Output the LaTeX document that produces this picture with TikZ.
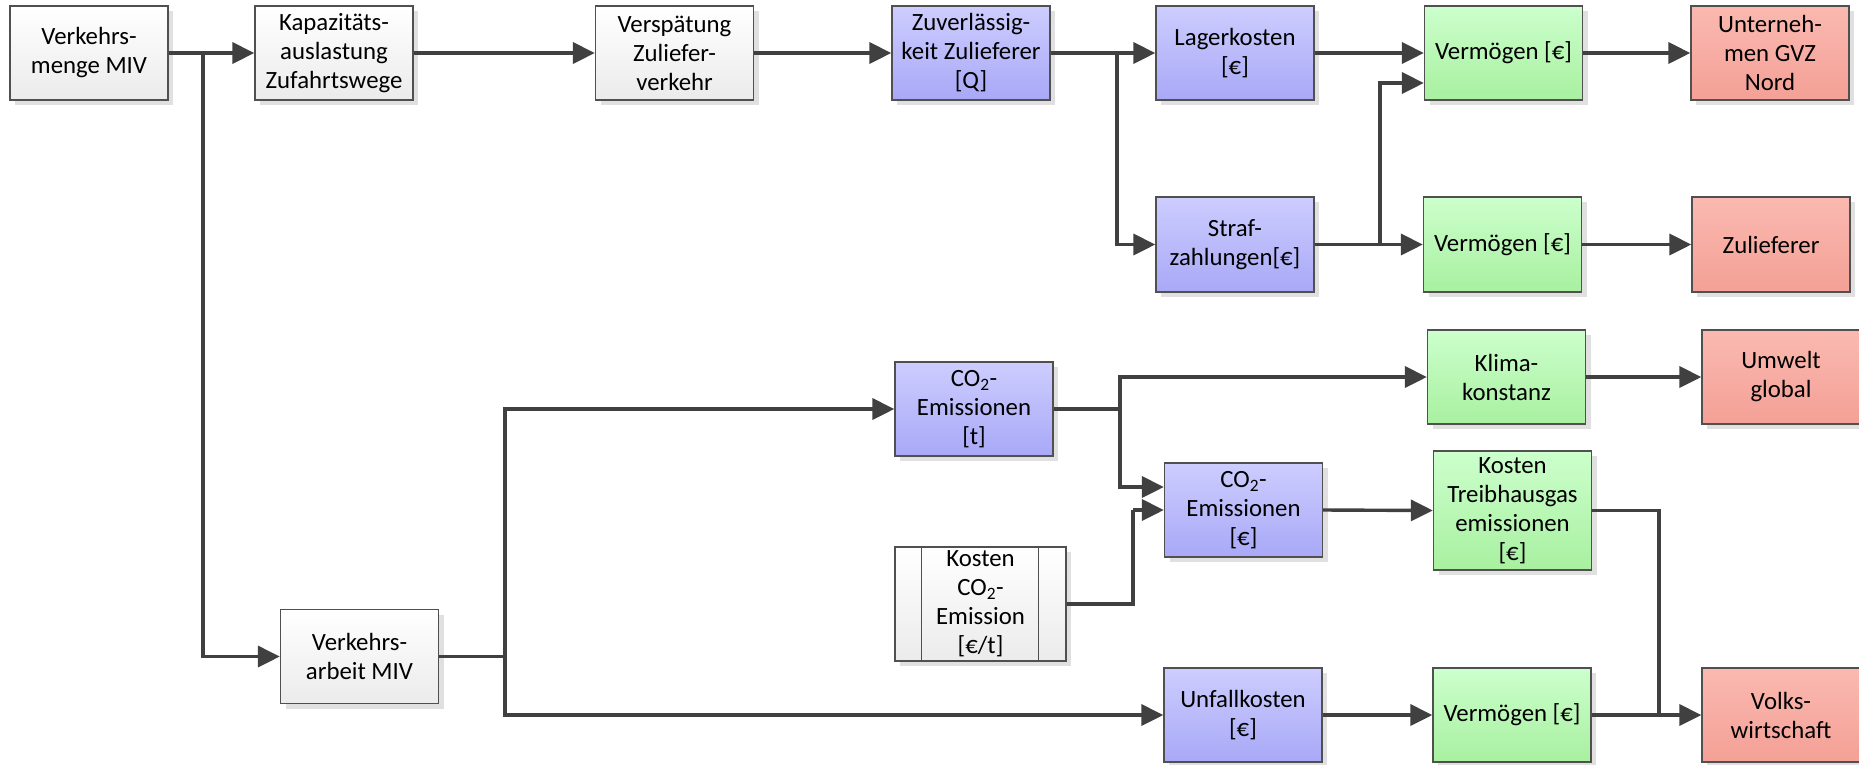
\documentclass[tikz,border=0pt]{standalone}
\usepackage{fontspec}
\setmainfont{Carlito}
\usetikzlibrary{arrows.meta,shadows}
\definecolor{lncol}{HTML}{404040}
\definecolor{bordcol}{HTML}{505050}
\definecolor{greytop}{HTML}{FFFFFF}
\definecolor{greybot}{HTML}{EBEBEB}
\definecolor{bluetop}{HTML}{CDCDFF}
\definecolor{bluebot}{HTML}{A8A8F7}
\definecolor{greentop}{HTML}{CCFFCC}
\definecolor{greenbot}{HTML}{A8F0A0}
\definecolor{redtop}{HTML}{FAB9B0}
\definecolor{redbot}{HTML}{F4A096}
\definecolor{shadcol}{HTML}{E0E0E0}
\tikzset{
  box/.style={draw=bordcol, line width=1.3pt, minimum width=158pt, minimum height=94pt,
    inner sep=0pt, align=center, font=\fontsize{24.8}{29}\selectfont,
    drop shadow={shadow xshift=5pt, shadow yshift=-5pt, fill=shadcol, opacity=1}},
  greybox/.style={box, top color=greytop, bottom color=greybot},
  bluebox/.style={box, top color=bluetop, bottom color=bluebot},
  greenbox/.style={box, top color=greentop, bottom color=greenbot},
  redbox/.style={box, top color=redtop, bottom color=redbot},
  arr/.style={draw=lncol, line width=3.4pt, -{Triangle[length=22pt,width=21pt]}},
  ln/.style={draw=lncol, line width=3.4pt},
  inner/.style={draw=bordcol, line width=1.3pt}
}
\begin{document}
\begin{tikzpicture}[x=1pt,y=-1pt]
\fill[white] (0,0) rectangle (1859,764);
\useasboundingbox (0,0) rectangle (1859,764);
% row 1
\node[greybox] (vm) at (89,53) {Verkehrs-\\menge MIV};
\node[greybox] (ka) at (334,53) {Kapazitäts-\\auslastung\\Zufahrtswege};
\node[greybox] (vs) at (674.5,53) {Verspätung\\Zuliefer-\\verkehr};
\node[bluebox] (zu) at (971,53) {Zuverlässig-\\keit Zulieferer\\{[Q]}};
\node[bluebox] (la) at (1235,53) {Lagerkosten\\{[€]}};
\node[greenbox] (v1) at (1503.5,53) {Vermögen [€]};
\node[redbox] (un) at (1770,53) {Unterneh-\\men GVZ\\Nord};
% row 2
\node[bluebox, minimum height=95pt] (st) at (1235,244.5) {Straf-\\zahlungen[€]};
\node[greenbox, minimum height=95pt] (v2) at (1502.5,244.5) {Vermögen [€]};
\node[redbox, minimum height=95pt] (zl) at (1771,244.5) {Zulieferer};
% row 3
\node[greenbox] (kl) at (1506.5,377) {Klima-\\konstanz};
\node[redbox] (uw) at (1781,377) {Umwelt\\global};
\node[bluebox] (c1) at (974,409) {CO\textsubscript{2}-\\Emissionen\\{[t]}};
\node[bluebox] (c2) at (1243.5,510) {CO\textsubscript{2}-\\Emissionen\\{[€]}};
\node[greenbox, minimum height=119pt] (kt) at (1512.5,510.5) {Kosten\\Treibhausgas\\emissionen\\{[€]}};
\node[greybox, minimum width=171pt, minimum height=114pt] (kc) at (980.5,604) {Kosten\\CO\textsubscript{2}-\\Emission\\{[€/t]}};
\draw[inner] ([xshift=27pt]kc.north west) -- ([xshift=27pt]kc.south west);
\draw[inner] ([xshift=-28pt]kc.north east) -- ([xshift=-28pt]kc.south east);
% row 4
\node[greybox] (va) at (359.5,656.5) {Verkehrs-\\arbeit MIV};
\node[bluebox] (uf) at (1243,715) {Unfallkosten\\{[€]}};
\node[greenbox] (v3) at (1512,715) {Vermögen [€]};
\node[redbox] (vw) at (1781,715) {Volks-\\wirtschaft};
% junctions
\coordinate (j1) at (203,53);
\coordinate (j2) at (1117,53);
\coordinate (j3) at (1380,244.5);
\coordinate (j4) at (505,656.5);
\coordinate (j5) at (1120,409);
\coordinate (j6) at (1133,510);
\coordinate (j7) at (1659,715);
% connectors
\draw[arr] (vm.east) -- (ka.west);
\draw[arr] (j1) |- (va.west);
\draw[arr] (ka.east) -- (vs.west);
\draw[arr] (vs.east) -- (zu.west);
\draw[arr] (zu.east) -- (la.west);
\draw[arr] (j2) |- (st.west);
\draw[arr] (la.east) -- (v1.west);
\draw[arr] (st.east) -- (v2.west);
\draw[arr] (j3) |- ([yshift=-30pt]v1.west);
\draw[arr] (v1.east) -- (un.west);
\draw[arr] (v2.east) -- (zl.west);
\draw[ln] (va.east) -- (j4);
\draw[arr] (j4) |- (c1.west);
\draw[arr] (j4) |- (uf.west);
\draw[ln] (c1.east) -- (j5);
\draw[arr] (j5) |- (kl.west);
\draw[arr] (j5) |- ([yshift=23pt]c2.west);
\draw[ln] (kc.east) -| (j6);
\draw[arr] (j6) -- (c2.west);
\draw[arr] (c2.east) -- (kt.west);
\draw[arr] (kl.east) -- (uw.west);
\draw[ln] (kt.east) -| (j7);
\draw[arr] (uf.east) -- (v3.west);
\draw[arr] (v3.east) -- (vw.west);
\end{tikzpicture}
\end{document}
